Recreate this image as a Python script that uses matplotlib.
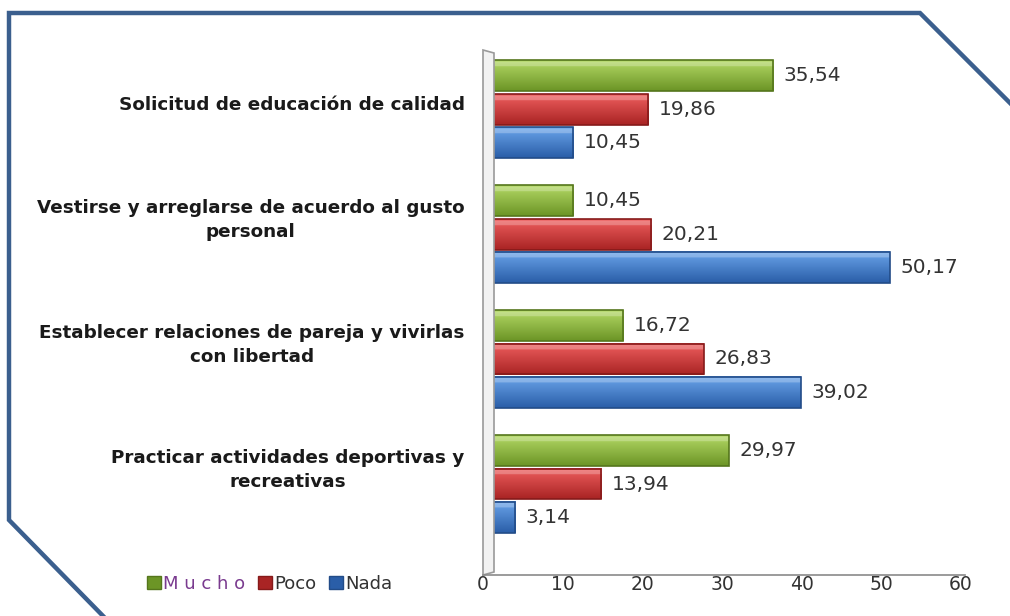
import numpy as np
import matplotlib
matplotlib.use("Agg")
import matplotlib.pyplot as plt
from matplotlib.patches import Patch, Polygon, Rectangle
from matplotlib.lines import Line2D
from matplotlib.transforms import ScaledTranslation

# --- data ---
categories = [
    "Solicitud de educación de calidad",
    "Vestirse y arreglarse de acuerdo al gusto\npersonal",
    "Establecer relaciones de pareja y vivirlas\ncon libertad",
    "Practicar actividades deportivas y\nrecreativas",
]
mucho = [35.54, 10.45, 16.72, 29.97]
poco = [19.86, 20.21, 26.83, 13.94]
nada = [10.45, 50.17, 39.02, 3.14]
series_names = ["M u c h o", "Poco", "Nada"]
x_ticks = [0, 10, 20, 30, 40, 50, 60]

# top colour, bottom colour, edge colour for the bars
styles = [
    ("#b3d865", "#6c9526", "#55761c"),
    ("#ee5e5e", "#a92424", "#861a1a"),
    ("#6aa4ea", "#2a5ea8", "#224c88"),
]

W, H = 1010, 616
fig = plt.figure(figsize=(W / 100, H / 100), dpi=100)
fig.patch.set_facecolor("white")


def fx(px):
    return px / W


def fy(py):
    return 1 - py / H


# plot area in pixels
left_px, right_px, top_px, bot_px = 490, 968, 55, 575
ax = fig.add_axes([fx(left_px), fy(bot_px), fx(right_px) - fx(left_px),
                   fy(top_px) - fy(bot_px)])
ax.set_facecolor("none")

ypos = np.arange(len(categories))
offsets = [-0.265, 0.0, 0.265]
bar_h = 0.248

for vals, off, (c_top, c_bot, c_edge) in zip([mucho, poco, nada], offsets, styles):
    t = np.array(matplotlib.colors.to_rgb(c_top))
    b = np.array(matplotlib.colors.to_rgb(c_bot))
    n = 40
    f = np.linspace(0, 1, n)[:, None]
    grad = t * (1 - f) + b * f
    # highlight band near the top
    grad[2:8] = grad[2:8] * 0.75 + 0.25
    grad = grad[:, None, :]
    for y, v in zip(ypos, vals):
        yc = y + off
        ax.imshow(grad, extent=[0, v, yc + bar_h / 2, yc - bar_h / 2],
                  aspect="auto", origin="upper", zorder=2, interpolation="bilinear")
        ax.add_patch(Rectangle((0, yc - bar_h / 2), v, bar_h, fill=False,
                               edgecolor=c_edge, lw=1.2, zorder=3))
        ax.text(v + 1.3, yc, f"{v:.2f}".replace(".", ","), va="center", ha="left",
                fontsize=14.5, color="#333333", zorder=4)

ax.set_xlim(0, 60)
ax.set_ylim(-0.432 + 4.16, -0.432)
ax.set_xticks(x_ticks)
ax.set_xticklabels([str(t) for t in x_ticks], fontsize=13.5, color="#333333")
ax.set_yticks([])
ax.tick_params(axis="x", length=0, pad=0)
shift = ScaledTranslation(-7 / 100, 0, fig.dpi_scale_trans)
for lab in ax.get_xticklabels():
    lab.set_transform(lab.get_transform() + shift)
for s in ax.spines.values():
    s.set_visible(False)

# category labels, right-aligned block with centred lines
for y, cat in zip(ypos, categories):
    off = -0.11 if "\n" in cat else -0.03
    ax.text(-3.2, y + off, cat, ha="right", va="center", multialignment="center",
            fontsize=13.2, fontweight="bold", color="#1a1a1a", linespacing=1.45)

# back wall and floor line
fig.patches.append(Polygon([(fx(483), fy(575)), (fx(483), fy(50)), (fx(494), fy(53)),
                            (fx(494), fy(572))], closed=True, transform=fig.transFigure,
                           facecolor="#f2f2f2", edgecolor="#9a9a9a", lw=1.2, zorder=0))
fig.lines.append(Line2D([fx(483), fx(965)], [fy(575), fy(575)], transform=fig.transFigure,
                        color="#8a8a8a", lw=1.2))

# outer frame with cut corners
frame_x = [fx(105), fx(9), fx(9), fx(920), fx(1012)]
frame_y = [fy(618), fy(520), fy(13), fy(13), fy(105)]
fig.lines.append(Line2D(frame_x, frame_y, transform=fig.transFigure,
                        color="#3b5f8e", lw=3.2, solid_joinstyle="miter"))

# legend
handles = [Patch(facecolor=s[1], edgecolor=s[2]) for s in styles]
leg = fig.legend(handles, series_names, loc="center left",
                 bbox_to_anchor=(fx(140), fy(584)), ncol=3, frameon=False,
                 fontsize=13, handlelength=0.75, handleheight=0.75,
                 handletextpad=0.15, columnspacing=0.7, borderaxespad=0)
txt_colors = ["#7a3b8f", "#333333", "#333333"]
for t, c in zip(leg.get_texts(), txt_colors):
    t.set_color(c)

fig.savefig("out.png", dpi=100)
